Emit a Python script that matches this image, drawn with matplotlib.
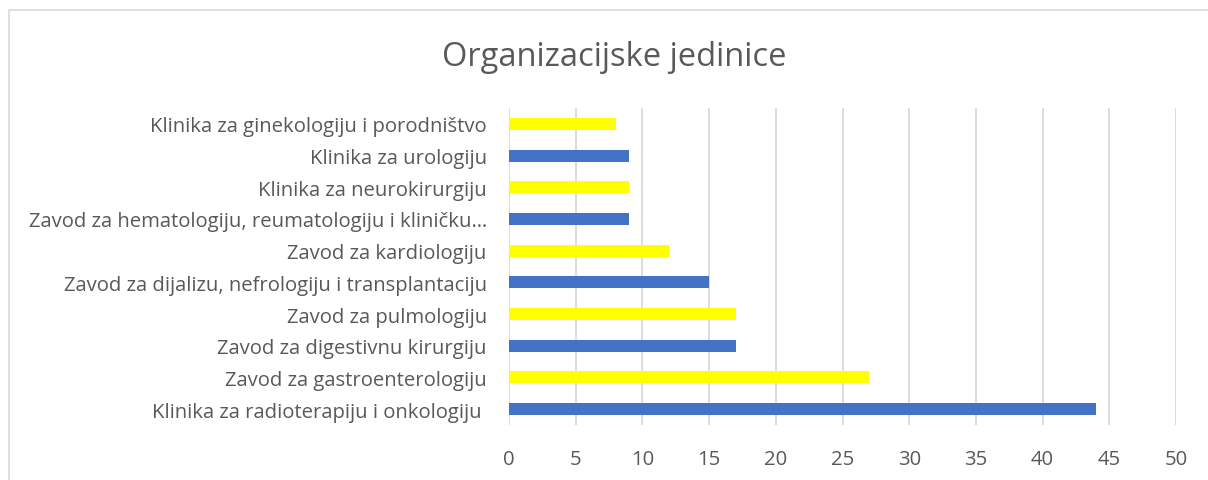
import matplotlib.pyplot as plt
from matplotlib.patches import Rectangle

categories = [
    "Klinika za radioterapiju i onkologiju ",
    "Zavod za gastroenterologiju",
    "Zavod za digestivnu kirurgiju",
    "Zavod za pulmologiju",
    "Zavod za dijalizu, nefrologiju i transplantaciju",
    "Zavod za kardiologiju",
    "Zavod za hematologiju, reumatologiju i kliničku…",
    "Klinika za neurokirurgiju",
    "Klinika za urologiju",
    "Klinika za ginekologiju i porodništvo",
]
values = [44, 27, 17, 17, 15, 12, 9, 9, 9, 8]
xticks = [0, 5, 10, 15, 20, 25, 30, 35, 40, 45, 50]

blue = "#4472C4"
yellow = "#FFFF00"
colors = [blue if i % 2 == 0 else yellow for i in range(len(values))]
text_col = "#595959"

plt.rcParams['font.family'] = ['Open Sans', 'DejaVu Sans']

fig = plt.figure(figsize=(12.08, 4.81), dpi=100)
ax = fig.add_axes([509/1208, 1-426/481, (1176-509)/1208, (426-109)/481])

ax.barh(range(len(values)), values, height=0.38, color=colors, zorder=3)
ax.set_xlim(0, 50)
ax.set_ylim(-0.5, len(values) - 0.5)
ax.set_xticks(xticks)
ax.set_yticks(range(len(values)))
ax.set_yticklabels(categories)
ax.grid(axis="x", color="#d9d9d9", linewidth=1.3, zorder=0)
for s in ax.spines.values():
    s.set_visible(False)
ax.tick_params(axis="both", length=0, labelsize=14.6, colors=text_col)
ax.tick_params(axis="x", pad=17)
ax.tick_params(axis="y", pad=16)

fig.text(614/1208, 1-58/481, "Organizacijske jedinice", ha="center", va="center",
         fontsize=23.5, color=text_col)

# chart frame (cropped at right and bottom)
fig.patches.append(Rectangle((9/1208, -0.1), 1.2, 1-11/481+0.1, transform=fig.transFigure,
                             fill=False, edgecolor="#d9d9d9", linewidth=1.2))

fig.savefig("out.png", dpi=100)
